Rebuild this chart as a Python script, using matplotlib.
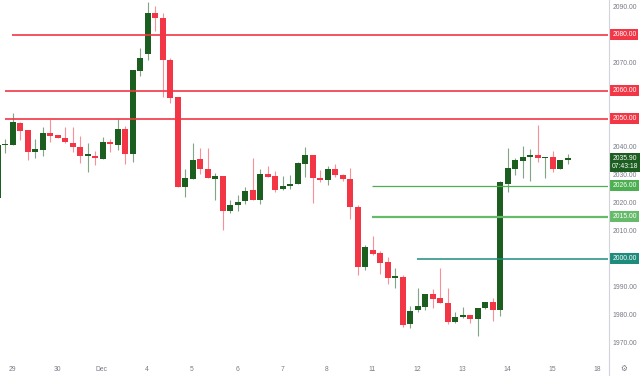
import matplotlib
matplotlib.use("Agg")
import matplotlib.pyplot as plt
import matplotlib.transforms as mtrans
from matplotlib.lines import Line2D
from matplotlib.patches import Rectangle

# 4h candles
opens = [2021.7, 2040.6, 2040.7, 2048.5, 2046.0, 2038.1, 2038.8, 2044.9, 2044.1, 2043.1,
         2041.3, 2039.9, 2036.8, 2036.7, 2035.7, 2041.7, 2040.7, 2046.3, 2037.5, 2067.1,
         2073.2, 2087.8, 2086.0, 2071.0, 2057.8, 2025.7, 2028.6, 2035.6, 2032.0, 2028.6,
         2029.5, 2016.9, 2019.1, 2020.7, 2024.5, 2021.1, 2030.1, 2029.6, 2024.9, 2026.1,
         2026.6, 2033.8, 2037.0, 2028.8, 2028.2, 2032.0, 2029.9, 2028.5, 2018.5, 1996.9,
         2003.0, 2002.0, 1998.8, 1993.2, 1993.5, 1976.6, 1981.7, 1982.9, 1987.4, 1985.9,
         1984.3, 1977.4, 1979.3, 1980.0, 1978.5, 1982.4, 1984.4, 1981.7, 2026.8, 2032.1,
         2035.0, 2036.4, 2036.9, 2035.9, 2036.2, 2032.0, 2035.1]
highs = [2041.0, 2042.7, 2051.9, 2048.9, 2046.0, 2042.7, 2046.9, 2049.8, 2044.3, 2046.9,
         2046.9, 2043.9, 2041.2, 2038.5, 2043.4, 2042.7, 2049.9, 2047.3, 2067.4, 2075.3,
         2091.7, 2090.4, 2087.8, 2071.7, 2057.8, 2032.0, 2041.2, 2039.5, 2039.6, 2030.7,
         2029.5, 2021.0, 2022.6, 2025.5, 2036.1, 2031.9, 2033.1, 2031.3, 2029.5, 2029.9,
         2034.6, 2040.0, 2037.0, 2031.7, 2033.1, 2033.8, 2030.3, 2032.4, 2019.2, 2004.9,
         2008.1, 2002.8, 2000.7, 1996.7, 1994.2, 1983.1, 1989.6, 1987.4, 1989.1, 1996.7,
         1989.6, 1980.9, 1982.9, 1980.0, 1982.5, 1984.6, 1986.1, 2027.8, 2039.4, 2035.9,
         2040.3, 2039.2, 2047.8, 2036.4, 2038.6, 2035.3, 2037.4]
lows = [2021.5, 2037.7, 2040.7, 2042.4, 2035.3, 2036.1, 2036.8, 2041.8, 2043.0, 2041.2,
        2038.2, 2034.1, 2031.1, 2033.5, 2035.7, 2038.2, 2038.8, 2033.7, 2034.6, 2065.4,
        2071.0, 2081.3, 2057.9, 2055.7, 2025.7, 2021.9, 2028.6, 2030.1, 2028.9, 2021.0,
        2010.3, 2016.4, 2017.0, 2019.4, 2021.1, 2019.6, 2029.2, 2023.9, 2024.5, 2024.9,
        2026.5, 2029.3, 2019.8, 2027.5, 2026.4, 2029.1, 2027.8, 2014.3, 1994.3, 1996.0,
        2001.3, 1994.5, 1991.0, 1989.5, 1975.7, 1975.4, 1981.1, 1981.7, 1982.3, 1984.3,
        1976.8, 1976.9, 1978.9, 1977.1, 1972.5, 1982.0, 1977.9, 1979.5, 2023.7, 2029.9,
        2028.9, 2027.6, 2034.6, 2028.9, 2031.1, 2032.0, 2034.0]
closes = [2040.6, 2040.7, 2048.7, 2045.7, 2038.2, 2039.2, 2044.9, 2043.8, 2043.2, 2041.7,
          2039.8, 2036.7, 2037.0, 2036.0, 2041.7, 2041.0, 2046.3, 2037.5, 2067.4, 2071.7,
          2087.8, 2085.9, 2071.0, 2057.5, 2025.7, 2028.8, 2035.3, 2031.9, 2028.9, 2029.4,
          2016.9, 2019.2, 2020.3, 2024.2, 2021.1, 2030.1, 2029.3, 2024.5, 2026.0, 2026.3,
          2034.2, 2037.0, 2028.7, 2028.1, 2032.0, 2029.9, 2028.4, 2018.5, 1996.9, 2004.2,
          2001.8, 1998.6, 1993.2, 1993.6, 1976.3, 1981.3, 1983.1, 1987.4, 1985.6, 1984.3,
          1977.4, 1979.2, 1980.0, 1978.5, 1982.5, 1984.4, 1981.8, 2027.3, 2032.5, 2035.3,
          2036.4, 2037.0, 2036.0, 2036.4, 2032.1, 2035.3, 2035.9]

day_labels = ["29", "30", "Dec", "4", "5", "6", "7", "8", "11", "12", "13", "14", "15", "18"]

level_prices = [2080, 2060, 2050, 2026, 2015, 2000]
level_starts = [1.9, 0.9, 0.9, 49.9, 49.9, 55.9]
level_colors = ["#f23645", "#f23645", "#f23645", "#4caf50", "#66bb6a", "#1e8c7c"]
level_widths = [1.2, 1.2, 1.2, 0.9, 1.6, 1.1]

last_price = 2035.90
countdown = "07:43:18"

up = "#1b5e20"
down = "#f23645"
grey = "#787b86"
fnt = "Liberation Sans"
fs = 4.9

fig = plt.figure(figsize=(6.4, 3.76), dpi=100)
ax = fig.add_axes([0, 21 / 376, 608 / 640, 355 / 376])

for i, (o, h, l, c) in enumerate(zip(opens, highs, lows, closes)):
    col = up if c >= o else down
    ax.vlines(i, l, h, color=col, lw=0.8, alpha=0.55, zorder=2)
    ax.add_patch(Rectangle((i - 0.4, min(o, c)), 0.8, max(abs(c - o), 0.5),
                           fc=col, ec="none", zorder=3))

xmax = (608 + 2.25) / 7.5
for p, s, col, w in zip(level_prices, level_starts, level_colors, level_widths):
    ax.hlines(p, s, xmax, color=col, lw=w, zorder=4)

ax.set_xlim(0.3, xmax)
ax.set_ylim(1965.6, 2092.4)
for sp in ax.spines.values():
    sp.set_visible(False)

ax.set_xticks([1.9 + 6 * k for k in range(len(day_labels))])
ax.set_xticklabels(day_labels, fontsize=fs, color=grey, family=fnt)
ax.tick_params(axis="x", length=0, pad=8)

ax.yaxis.tick_right()
yt = list(range(1970, 2091, 10))
ax.set_yticks(yt)
ax.set_yticklabels([f"{v:.2f}" for v in yt], fontsize=fs, color=grey, family=fnt)
ax.tick_params(axis="y", length=0, pad=3)

blend = mtrans.blended_transform_factory(ax.transAxes, ax.transData)
for p, col in zip(level_prices, level_colors):
    ax.annotate(f"{p:.2f}", xy=(1, p), xycoords=blend, xytext=(3, 0),
                textcoords="offset points", ha="left", va="center",
                fontsize=fs, color="white", family=fnt, annotation_clip=False,
                bbox=dict(boxstyle="square,pad=0.3", fc=col, ec="none"), zorder=6)

ax.annotate(f"{last_price:.2f}\n{countdown}", xy=(1, last_price), xycoords=blend,
            xytext=(3, -3), textcoords="offset points", ha="left", va="center",
            fontsize=fs, color="white", family=fnt, linespacing=1.3,
            annotation_clip=False,
            bbox=dict(boxstyle="square,pad=0.3", fc=up, ec="none"), zorder=6)

fig.add_artist(Line2D([608.5 / 640] * 2, [0, 1], transform=fig.transFigure,
                      color="#d1d4dc", lw=0.8))
fig.text(624 / 640, 1 - 368 / 376, "\u2699", fontsize=5.5, color=grey,
         ha="center", va="center")

fig.savefig("out.png", dpi=100)
